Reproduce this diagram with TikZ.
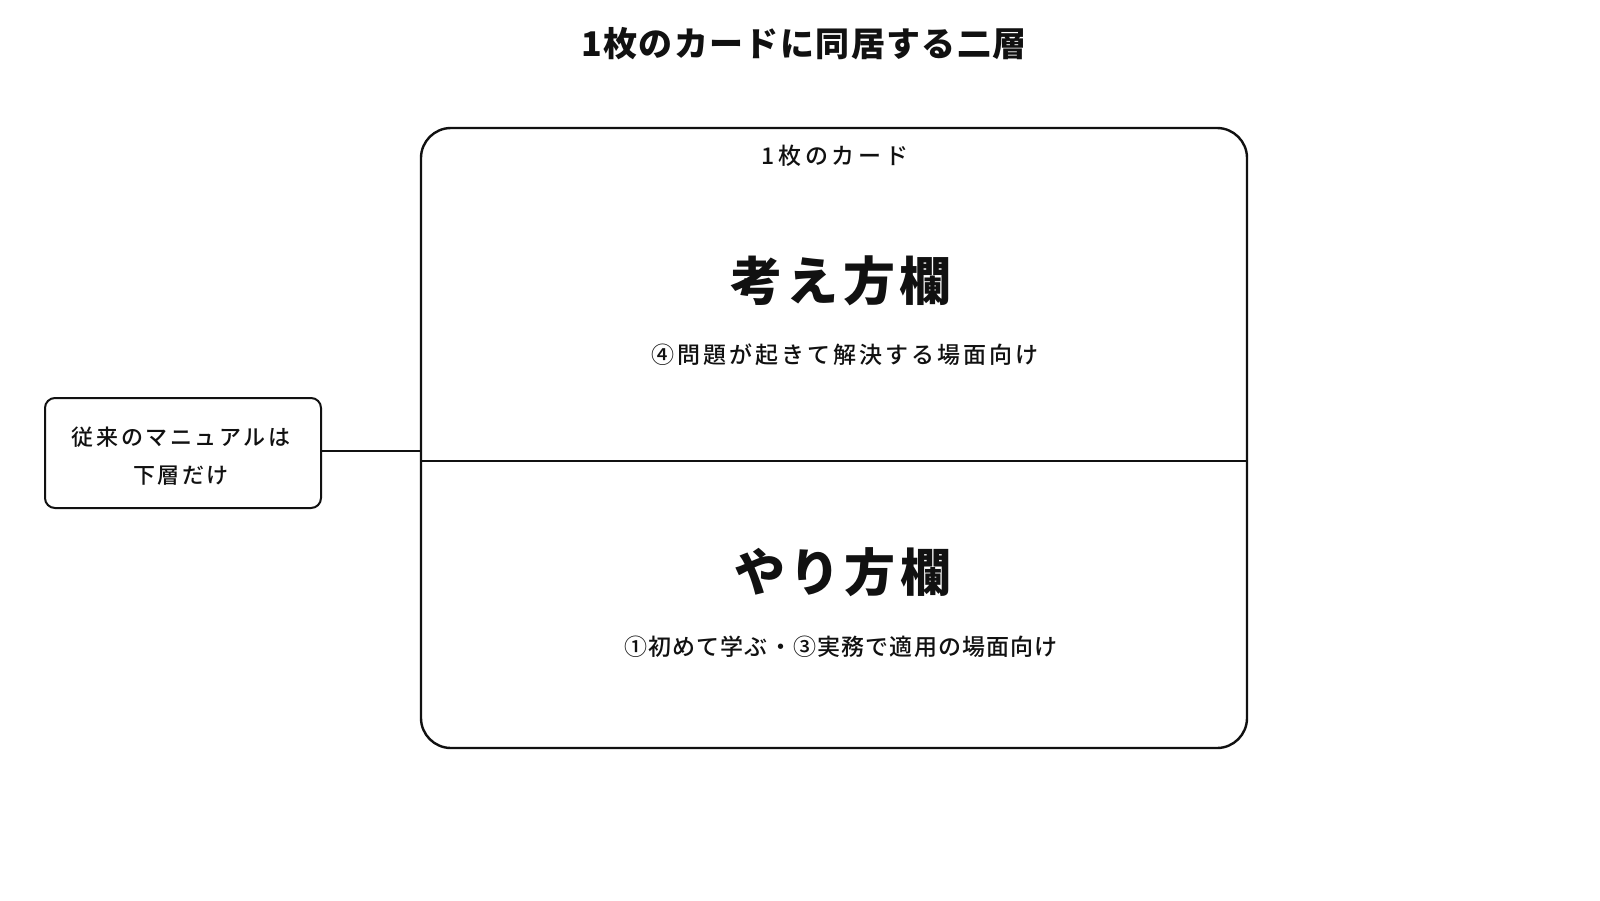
\documentclass[tikz,border=0pt]{standalone}
\usepackage{fontspec}
\setmainfont{Noto Sans CJK JP}
\newfontfamily\jptitle[LetterSpace=4]{Noto Sans CJK JP}
\newfontfamily\jphead[LetterSpace=8]{Noto Sans CJK JP}
\newfontfamily\jplabel[LetterSpace=16]{Noto Sans CJK JP Medium}
\newfontfamily\jpdescA[LetterSpace=13]{Noto Sans CJK JP Medium}
\newfontfamily\jpdescB[LetterSpace=5]{Noto Sans CJK JP Medium}
\newfontfamily\jpbox[LetterSpace=12]{Noto Sans CJK JP Medium}
\definecolor{ink}{HTML}{111111}
\tikzset{
  frame/.style={draw=ink, line width=2.4pt},
  smallbox/.style={draw=ink, line width=2pt, rounded corners=10pt, minimum width=276pt, minimum height=110pt, inner sep=0pt},
  link/.style={draw=ink, line width=2pt},
  txt/.style={text=ink, inner sep=0pt, anchor=center, align=center}
}
\begin{document}
\begin{tikzpicture}[x=1pt,y=-1pt]
\useasboundingbox[fill=white] (0,0) rectangle (1600,900);
\node[txt, font={\jptitle\bfseries\fontsize{34}{40}\selectfont}] (title) at (804,44) {1枚のカードに同居する二層};
\node[frame, rounded corners=30pt, minimum width=826pt, minimum height=620pt, inner sep=0pt] (card) at (834,438) {};
\coordinate (divL) at (421,461);
\coordinate (divR) at (1247,461);
\draw[link] (divL) -- (divR);
\node[txt, font={\jplabel\fontsize{23}{26}\selectfont}] (cardlabel) at (835,156) {1枚のカード};
\node[txt, font={\jphead\bfseries\fontsize{52}{60}\selectfont}] (kangae) at (841,281) {考え方欄};
\node[txt, font={\jpdescA\fontsize{23}{28}\selectfont}] (desc1) at (845,355) {④問題が起きて解決する場面向け};
\node[txt, font={\jphead\bfseries\fontsize{51}{60}\selectfont}] (yari) at (843,572) {やり方欄};
\node[txt, font={\jpdescB\fontsize{23}{28}\selectfont}] (desc2) at (841,647) {①初めて学ぶ・③実務で適用の場面向け};
\node[smallbox] (lbox) at (183,453) {};
\node[txt, font={\jpbox\fontsize{22}{38}\selectfont}] (lboxtext) at (181,456) {従来のマニュアルは\\下層だけ};
\coordinate (lout) at ([yshift=2pt]lbox.east);
\draw[link] (lout) -- (lout -| card.west);
\end{tikzpicture}
\end{document}
